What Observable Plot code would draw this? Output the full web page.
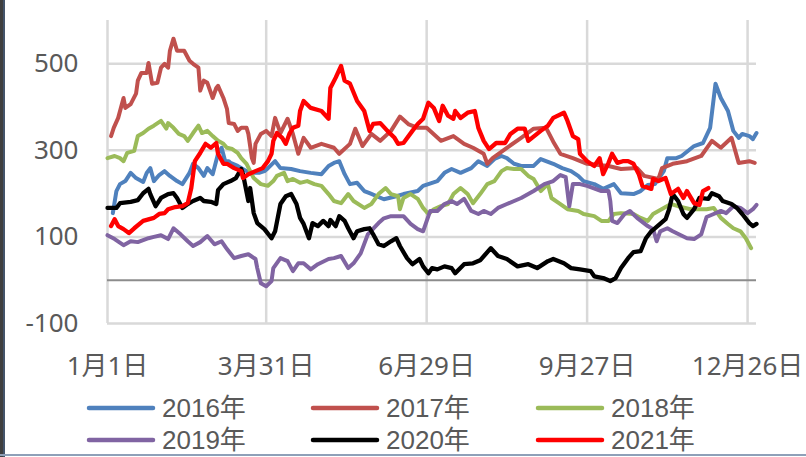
<!DOCTYPE html>
<html><head><meta charset="utf-8">
<script src="https://cdn.jsdelivr.net/npm/d3@7"></script>
<script src="https://cdn.jsdelivr.net/npm/@observablehq/plot@0.6"></script>
<style>
body{margin:0;background:#fff;}
#wrap{position:relative;width:806px;height:457px;overflow:hidden;font-family:"Noto Sans","Noto Sans CJK SC",sans-serif;background:#fff;}
#chart{position:absolute;left:0;top:0;}
#lb{position:absolute;left:0;top:0;width:3px;height:457px;background:#3F3F3F;}
#lb2{position:absolute;left:3px;top:0;width:2px;height:457px;background:#44546A;}
#bb{position:absolute;left:0;top:454px;width:806px;height:2px;background:#8EA0B8;}
#legend{position:absolute;left:0;top:392px;width:806px;height:62px;}
.item{position:absolute;display:flex;align-items:center;height:30px;line-height:28px;font-size:26px;color:#595959;white-space:nowrap;font-family:"Liberation Sans","Noto Sans CJK SC",sans-serif;}
.item span{display:block;height:28px;line-height:28px;}
.item svg{margin-right:6px;display:block;}
</style></head>
<body>
<div id="wrap"><div id="chart"></div><div id="legend"></div><div id="lb"></div><div id="lb2"></div><div id="bb"></div></div>
<script>
// x = day of year, y = value
const tickDays = [1, 90, 180, 270, 360];
const tickLabels = ["1月1日", "3月31日", "6月29日", "9月27日", "12月26日"];
const yTicks = [-100, 100, 300, 500];
const seriesNames = ["2016年", "2017年", "2018年", "2019年", "2020年", "2021年"];
const seriesColors = ["#4F81BD", "#C0504D", "#9BBB59", "#8064A2", "#000000", "#FF0000"];

const y2016 = [[4,155],[6,206],[8,222],[11,229],[14,248],[17,236],[21,227],[23,248],[25,259],[27,229],[30,243],[33,252],[36,241],[40,229],[43,222],[47,248],[49,269],[52,259],[55,241],[57,259],[60,245],[63,292],[65,306],[67,275],[69,275],[70,271],[74,264],[79,252],[81,248],[86,248],[89,252],[91,259],[95,275],[98,259],[104,257],[109,252],[115,248],[121,245],[125,264],[128,271],[131,275],[134,245],[137,222],[141,225],[145,206],[148,201],[156,187],[163,194],[167,199],[175,206],[178,218],[186,229],[190,248],[194,257],[199,248],[205,259],[209,275],[214,264],[218,280],[222,287],[225,282],[229,269],[233,264],[240,264],[244,280],[251,269],[256,259],[261,252],[265,241],[268,229],[274,222],[279,211],[285,222],[289,201],[296,199],[300,206],[304,220],[308,222],[313,252],[315,282],[320,282],[323,287],[330,310],[335,317],[339,352],[342,454],[345,421],[349,391],[352,345],[355,329],[357,338],[361,333],[363,326],[365,340]];

const y2017 = [[3,333],[4.5,352],[7,375],[10,421],[11,398],[14,407],[17,431],[18,461],[20,479],[23,479],[24,502],[26,454],[29,456],[31,491],[33,500],[35,491],[36,530],[38,558],[40,530],[44,530],[47,507],[49,500],[52,491],[53,438],[55,461],[57,456],[60,421],[62,444],[63,449],[66,421],[68,396],[69,363],[72,361],[74,345],[76,352],[79,352],[80,338],[82,282],[83,271],[84,315],[87,338],[90,345],[93,333],[95,375],[98,340],[102,373],[105,338],[108,292],[111,329],[115,306],[121,315],[128,306],[131,292],[137,315],[140,350],[144,310],[149,338],[154,322],[160,345],[165,378],[170,360],[175,352],[180,352],[188,322],[195,333],[201,315],[206,306],[212,292],[214,269],[217,282],[225,306],[233,329],[240,350],[247,352],[251,320],[255,292],[262,282],[270,269],[282,264],[289,257],[298,259],[302,241],[310,234],[312,259],[318,269],[326,275],[334,287],[340,322],[345,306],[351,329],[355,271],[361,275],[364,271]];

const y2018 = [[1,282],[5,287],[8,282],[10,275],[12,294],[16,299],[18,333],[21,340],[24,350],[27,357],[31,368],[34,350],[35,363],[38,352],[41,338],[44,333],[46,322],[49,340],[52,357],[54,340],[57,345],[60,333],[63,322],[66,315],[68,306],[71,303],[74,294],[76,282],[79,269],[81,252],[83,236],[87,222],[91,218],[94,229],[96,241],[100,248],[102,229],[105,234],[109,225],[113,229],[117,222],[121,218],[125,199],[128,183],[132,178],[136,199],[139,183],[145,167],[149,176],[153,199],[157,213],[160,199],[164,194],[165,164],[167,190],[171,199],[175,188],[178,167],[181,153],[184,164],[188,171],[192,176],[195,199],[199,213],[203,199],[206,178],[210,199],[214,222],[218,229],[222,252],[225,259],[229,257],[233,257],[237,241],[240,234],[244,206],[248,222],[250,190],[255,176],[259,164],[265,160],[268,153],[274,148],[278,137],[282,137],[285,153],[289,155],[296,153],[300,144],[304,137],[307,153],[313,167],[317,176],[321,171],[328,164],[337,164],[341,167],[345,144],[349,130],[352,120],[356,113],[359,97],[362,74]];

const y2019 = [[1,104],[5,95],[10,81],[14,90],[18,88],[24,97],[27,100],[31,104],[35,95],[38,120],[42,106],[46,90],[49,79],[53,88],[57,102],[61,83],[65,90],[68,72],[72,51],[76,56],[80,60],[84,49],[85,28],[87,-7],[90,-14],[93,-2],[94,28],[98,51],[102,44],[105,21],[108,39],[111,39],[115,25],[119,37],[125,49],[128,51],[132,56],[136,28],[139,39],[143,62],[147,106],[153,132],[156,143],[160,148],[167,148],[171,130],[175,118],[178,113],[182,160],[186,160],[190,176],[194,183],[197,176],[201,188],[205,160],[209,153],[212,160],[216,153],[220,167],[225,176],[233,190],[240,206],[246,222],[251,229],[255,243],[258,238],[260,171],[262,222],[266,222],[270,218],[278,206],[282,206],[283,183],[284,137],[287,132],[291,153],[294,160],[298,144],[304,125],[307,118],[309,90],[311,113],[315,120],[318,113],[326,97],[330,95],[334,106],[337,146],[341,153],[345,160],[348,155],[352,171],[356,167],[360,155],[363,164],[365,174]];

const y2020 = [[1,167],[6,167],[8,178],[14,181],[18,185],[21,201],[24,211],[25,199],[28,171],[31,190],[35,199],[38,201],[40,190],[43,167],[46,176],[49,183],[53,190],[55,183],[59,181],[62,176],[63,208],[66,222],[70,229],[73,236],[76,257],[77,245],[80,183],[81,213],[83,155],[85,132],[89,118],[93,97],[95,113],[98,176],[101,194],[104,199],[107,176],[109,144],[111,130],[114,97],[116,132],[119,125],[122,137],[125,125],[126,139],[129,125],[131,148],[134,137],[136,120],[139,97],[141,113],[145,118],[148,120],[150,106],[153,83],[156,79],[160,90],[163,97],[165,79],[169,51],[172,37],[176,49],[178,32],[181,16],[183,28],[186,25],[190,32],[194,28],[196,16],[201,37],[206,39],[210,46],[216,74],[220,56],[225,49],[231,32],[237,37],[242,28],[248,44],[251,49],[257,39],[261,28],[266,25],[272,21],[274,9],[279,5],[283,-2],[286,5],[289,28],[293,51],[296,65],[300,67],[303,97],[306,113],[308,120],[314,141],[316,164],[318,199],[321,183],[324,153],[326,144],[330,164],[333,190],[338,188],[340,201],[344,194],[346,183],[351,176],[354,167],[357,153],[361,132],[363,125],[365,130]];

const y2021 = [[3,125],[5,141],[7,125],[10,118],[13,109],[16,120],[21,137],[27,144],[30,153],[33,155],[35,164],[39,169],[43,171],[46,178],[48,213],[50,275],[53,294],[56,315],[59,306],[62,317],[63,292],[66,269],[68,269],[72,259],[76,252],[77,236],[80,245],[84,252],[88,259],[91,275],[93,292],[94,322],[96,340],[99,329],[101,315],[103,338],[105,352],[108,357],[109,391],[111,414],[115,398],[121,391],[125,373],[126,444],[129,468],[132,495],[134,461],[137,454],[141,414],[145,391],[148,345],[150,361],[154,363],[158,345],[162,329],[164,315],[167,317],[172,345],[175,361],[178,373],[181,410],[184,398],[187,368],[189,403],[192,380],[195,373],[196,391],[199,375],[203,387],[207,391],[209,352],[212,322],[215,303],[219,317],[224,317],[227,338],[231,350],[235,350],[237,322],[244,345],[248,357],[251,375],[257,387],[259,368],[262,333],[265,326],[266,292],[270,275],[274,264],[277,282],[279,245],[282,271],[284,292],[287,271],[290,275],[293,275],[296,269],[299,245],[301,218],[306,211],[307,234],[310,229],[314,236],[317,199],[321,211],[324,190],[326,206],[330,178],[333,174],[335,206],[338,213]];

const seriesData = [y2016, y2017, y2018, y2019, y2020, y2021];
const fontFam = '"Noto Sans","Noto Sans CJK SC",sans-serif';

const lineMarks = seriesData.map((s, i) => Plot.line(s, {
  x: d => d[0], y: d => d[1], stroke: seriesColors[i],
  strokeWidth: i >= 4 ? 4.3 : 4, strokeLinejoin: "round", strokeLinecap: "round"
}));

const chart = Plot.plot({
  width: 806, height: 392,
  marginTop: 20, marginBottom: 69, marginLeft: 107, marginRight: 50,
  style: {fontFamily: fontFam, fontSize: "26px", color: "#595959", background: "transparent", overflow: "visible"},
  x: {domain: [1, 365]},
  y: {domain: [-100, 600]},
  marks: [
    Plot.gridX(tickDays, {stroke: "#D9D9D9", strokeOpacity: 1, strokeWidth: 2.5}),
    Plot.gridY(yTicks, {stroke: "#D9D9D9", strokeOpacity: 1, strokeWidth: 2.5}),
    Plot.ruleY([0], {stroke: "#8C8C8C", strokeWidth: 2}),
    ...lineMarks,
    Plot.axisX(tickDays, {tickSize: 0, tickPadding: 33, label: null,
      tickFormat: d => tickLabels[tickDays.indexOf(d)]}),
    Plot.axisY(yTicks, {tickSize: 0, tickPadding: 29, label: null, tickFormat: d => String(d)})
  ]
});
document.getElementById("chart").appendChild(chart);

// legend
const legend = document.getElementById("legend");
const colX = [86, 310, 535];
seriesNames.forEach((name, i) => {
  const item = document.createElement("div");
  item.className = "item";
  item.style.left = colX[i % 3] + "px";
  item.style.top = (1 + Math.floor(i / 3) * 32) + "px";
  item.innerHTML = `<svg width="70" height="10"><line x1="3" y1="5" x2="67" y2="5" stroke="${seriesColors[i]}" stroke-width="4.5" stroke-linecap="round"/></svg><span>${name}</span>`;
  legend.appendChild(item);
});
</script>
</body></html>
